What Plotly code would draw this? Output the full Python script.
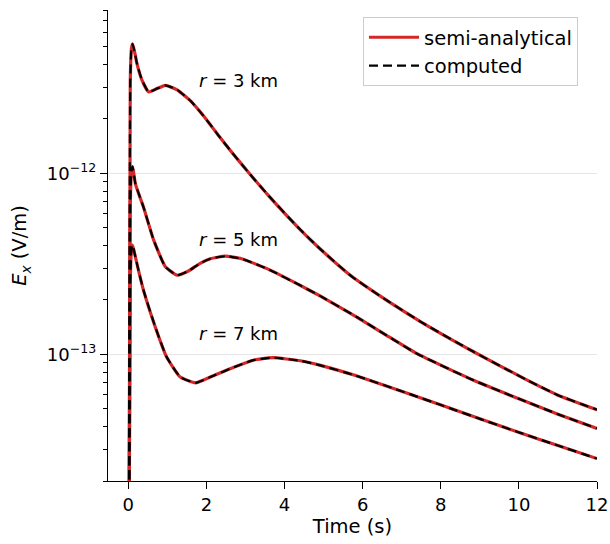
import math
import plotly.graph_objects as go

# ---- data ----
t_r3 = [0.02, 0.05, 0.08, 0.11, 0.17, 0.22, 0.35, 0.52, 0.70, 0.95, 1.25, 1.60, 1.84, 2.10, 2.31, 2.70, 3.10, 3.60, 4.40, 4.90, 5.70, 6.54, 7.50, 8.84, 10.2, 11.0, 12.0]
E_r3 = [1e-14, 3.2e-12, 4.9e-12, 5.2e-12, 4.6e-12, 4.06e-12, 3.28e-12, 2.82e-12, 2.92e-12, 3.07e-12, 2.9e-12, 2.51e-12, 2.19e-12, 1.86e-12, 1.62e-12, 1.27e-12, 1.0e-12, 7.5e-13, 4.9e-13, 3.85e-13, 2.72e-13, 2.04e-13, 1.51e-13, 1.035e-13, 7.24e-14, 5.96e-14, 4.95e-14]

t_r5 = [0.02, 0.05, 0.08, 0.11, 0.18, 0.26, 0.39, 0.65, 0.95, 1.25, 1.55, 1.84, 2.10, 2.48, 2.90, 3.55, 4.40, 4.92, 5.85, 6.60, 7.39, 8.84, 10.0, 11.0, 12.0]
E_r5 = [1e-14, 6.5e-13, 1.03e-12, 1.09e-12, 8.8e-13, 7.8e-13, 6.5e-13, 4.28e-13, 3.05e-13, 2.74e-13, 2.9e-13, 3.19e-13, 3.38e-13, 3.49e-13, 3.38e-13, 2.98e-13, 2.41e-13, 2.1e-13, 1.61e-13, 1.28e-13, 1.01e-13, 7.2e-14, 5.69e-14, 4.68e-14, 3.9e-14]

t_r7 = [0.02, 0.05, 0.08, 0.11, 0.18, 0.26, 0.39, 0.69, 0.98, 1.33, 1.72, 2.10, 2.70, 3.20, 3.70, 4.40, 4.92, 5.80, 6.96, 7.99, 9.00, 9.99, 11.0, 12.0]
E_r7 = [1e-14, 2.5e-13, 3.8e-13, 4.02e-13, 3.47e-13, 2.92e-13, 2.26e-13, 1.42e-13, 9.7e-14, 7.5e-14, 6.97e-14, 7.5e-14, 8.5e-14, 9.3e-14, 9.6e-14, 9.23e-14, 8.71e-14, 7.67e-14, 6.31e-14, 5.27e-14, 4.41e-14, 3.72e-14, 3.14e-14, 2.66e-14]

labels = ["<i>r</i> = 3 km", "<i>r</i> = 5 km", "<i>r</i> = 7 km"]
label_x = [1.77, 1.77, 1.77]
label_y = [3.28e-12, 4.34e-13, 1.31e-13]

x_ticks = [0, 2, 4, 6, 8, 10, 12]
y_major = [1e-13, 1e-12]
y_major_text = ["10<sup>\u221213</sup>", "10<sup>\u221212</sup>"]
y_minor = [m * 10.0 ** e for e in (-14, -13, -12) for m in range(2, 10)]

series = [(t_r3, E_r3), (t_r5, E_r5), (t_r7, E_r7)]

FONT = "DejaVu Sans"
FS = 18
SMOOTH = 0.45
fig = go.Figure()

for i, (t, e) in enumerate(series):
    fig.add_trace(go.Scatter(x=t, y=e, mode="lines", name="semi-analytical",
                             line=dict(color="#d62728", width=3.2, shape="spline", smoothing=SMOOTH),
                             showlegend=(i == 0), legendrank=1))
for i, (t, e) in enumerate(series):
    fig.add_trace(go.Scatter(x=t, y=e, mode="lines", name="computed",
                             line=dict(color="black", width=2.2, dash="9px,5px", shape="spline", smoothing=SMOOTH),
                             showlegend=(i == 0), legendrank=2))

for txt, lx, ly in zip(labels, label_x, label_y):
    fig.add_annotation(x=lx, y=math.log10(ly), xref="x", yref="y", text=txt,
                       showarrow=False, xanchor="left", yanchor="middle",
                       font=dict(family=FONT, size=FS, color="black"))

fig.update_layout(
    width=610, height=544,
    margin=dict(l=108, r=13, t=10, b=63),
    paper_bgcolor="white", plot_bgcolor="white",
    font=dict(family=FONT, size=FS, color="black"),
    legend=dict(x=0.5215, y=0.985, xanchor="left", yanchor="top",
                bgcolor="white", bordercolor="#cccccc", borderwidth=1,
                itemwidth=50,
                font=dict(family=FONT, size=19.5, color="black")),
)
fig.update_xaxes(range=[-0.52, 12], tickvals=x_ticks, ticks="outside", ticklen=7, tickwidth=1.3,
                 tickcolor="black", showline=True, linecolor="black", linewidth=1.3,
                 showgrid=False, zeroline=False,
                 title=dict(text="Time (s)", standoff=4, font=dict(size=19.5)),
                 tickfont=dict(size=FS), automargin=False)
fig.update_yaxes(type="log", range=[math.log10(2e-14), math.log10(8e-12)],
                 tickmode="array", tickvals=y_major, ticktext=y_major_text,
                 ticks="outside", ticklen=7, tickwidth=1.3, tickcolor="black",
                 showline=True, linecolor="black", linewidth=1.3,
                 showgrid=True, gridcolor="#e6e6e6", gridwidth=1, zeroline=False,
                 minor=dict(tickmode="array", tickvals=y_minor, ticks="outside", ticklen=4,
                            tickwidth=1, tickcolor="black", showgrid=False),
                 title=dict(text="<i>E<sub>x</sub></i> (V/m)", standoff=14, font=dict(size=19.5)),
                 tickfont=dict(size=FS), automargin=False)

fig.write_html("out.html", config={"displayModeBar": False},
               post_script="document.body.style.margin='0';document.body.style.overflow='hidden';")
